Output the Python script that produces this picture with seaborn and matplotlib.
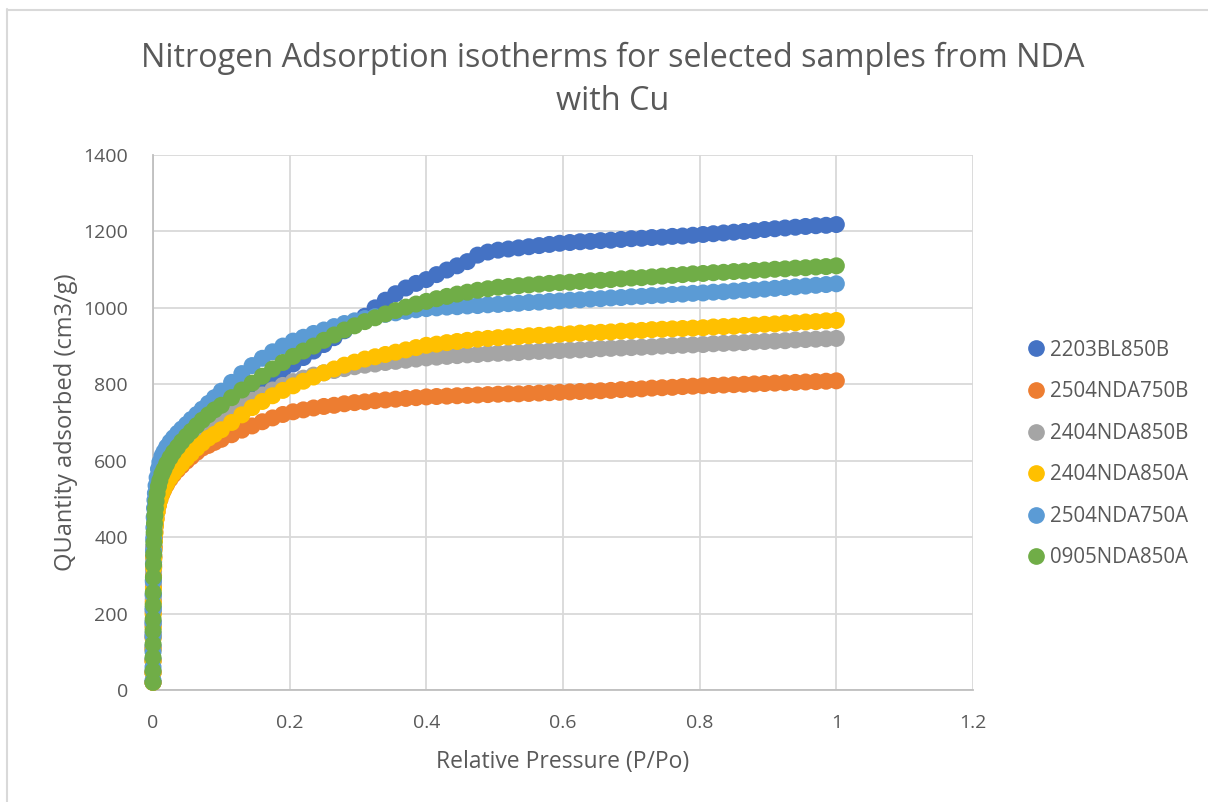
import numpy as np
import pandas as pd
import seaborn as sns
import matplotlib.pyplot as plt
from matplotlib.lines import Line2D

# Relative pressure points (P/Po) shared by all samples
pressure = [0.00001, 0.00003, 0.00006, 0.0001, 0.00015, 0.0002, 0.0003, 0.0004, 0.0006, 0.0008,
            0.001, 0.0013, 0.0017, 0.0022, 0.0028, 0.0035, 0.0045, 0.006, 0.008,
            0.01, 0.013, 0.016, 0.02, 0.025, 0.03, 0.036, 0.042, 0.049, 0.056,
            0.064, 0.072, 0.081, 0.09, 0.1,
            0.115, 0.13, 0.145, 0.16, 0.175, 0.19, 0.205, 0.22, 0.235, 0.25,
            0.265, 0.28, 0.295, 0.31, 0.325, 0.34, 0.355, 0.37, 0.385, 0.4,
            0.415, 0.43, 0.445, 0.46, 0.475, 0.49, 0.505, 0.52, 0.535, 0.55,
            0.565, 0.58, 0.595, 0.61, 0.625, 0.64, 0.655, 0.67, 0.685, 0.7,
            0.715, 0.73, 0.745, 0.76, 0.775, 0.79, 0.805, 0.82, 0.835, 0.85,
            0.865, 0.88, 0.895, 0.91, 0.925, 0.94, 0.955, 0.97, 0.985, 1.0]

# Quantity adsorbed (cm3/g) for each sample
q_2203BL850B = [20, 48, 80, 115, 148, 178, 215, 248, 288, 320,
                347, 376, 403, 427, 448, 466, 485, 505, 523,
                538, 555, 567, 582, 597, 611, 624, 637, 651, 664,
                678, 692, 706, 717, 728,
                749, 768, 786, 803, 820, 837, 853, 870, 887, 904,
                922, 940, 958, 978, 1000, 1020, 1037, 1052, 1064, 1074,
                1087, 1099, 1110, 1121, 1138, 1146, 1151, 1154, 1157, 1160,
                1163, 1166, 1169, 1171, 1173, 1174, 1176, 1177, 1179, 1181,
                1182, 1184, 1185, 1187, 1188, 1190, 1192, 1194, 1196, 1198,
                1200, 1202, 1205, 1207, 1209, 1211, 1213, 1215, 1216, 1218]
q_2504NDA750B = [20, 45, 76, 108, 138, 167, 202, 233, 270, 300,
                 325, 350, 373, 395, 414, 431, 449, 467, 484,
                 498, 513, 525, 538, 552, 564, 576, 587, 599, 610,
                 622, 633, 640, 648, 656,
                 668, 680, 691, 702, 712, 721, 728, 733, 738, 742,
                 745, 749, 752, 754, 757, 759, 761, 763, 765, 767,
                 768, 769, 770, 771, 772, 773, 774, 775, 775, 776,
                 777, 778, 779, 780, 781, 782, 783, 784, 786, 787,
                 788, 790, 791, 792, 794, 795, 796, 797, 798, 799,
                 800, 801, 802, 803, 804, 805, 806, 807, 808, 809]
q_2404NDA850B = [20, 45, 78, 110, 142, 172, 208, 240, 278, 310,
                 336, 364, 390, 413, 433, 450, 468, 487, 505,
                 520, 536, 548, 562, 577, 590, 603, 616, 630, 643,
                 657, 670, 684, 696, 708,
                 726, 743, 758, 772, 785, 797, 807, 816, 824, 830,
                 836, 841, 846, 850, 853, 857, 860, 863, 866, 869,
                 871, 873, 875, 877, 878, 880, 881, 882, 883, 885,
                 886, 887, 888, 889, 890, 891, 893, 894, 895, 896,
                 897, 898, 900, 901, 902, 903, 904, 906, 907, 908,
                 909, 911, 912, 913, 914, 916, 917, 918, 919, 920]
q_2404NDA850A = [20, 45, 75, 105, 135, 163, 198, 228, 265, 295,
                 320, 345, 368, 390, 410, 428, 447, 466, 484,
                 498, 514, 526, 540, 555, 567, 580, 592, 606, 619,
                 633, 646, 659, 669, 681,
                 700, 720, 739, 755, 770, 784, 796, 808, 819, 830,
                 840, 850, 858, 866, 872, 878, 884, 890, 896, 902,
                 905, 909, 912, 915, 918, 920, 922, 924, 925, 927,
                 928, 929, 931, 932, 934, 935, 936, 937, 939, 940,
                 941, 943, 944, 945, 946, 947, 948, 950, 951, 952,
                 954, 955, 957, 958, 960, 961, 963, 964, 966, 967]
q_2504NDA750A = [25, 60, 100, 140, 175, 210, 250, 285, 330, 365,
                 395, 425, 452, 476, 497, 515, 535, 556, 578,
                 596, 612, 623, 636, 649, 660, 672, 683, 695, 708,
                 721, 735, 750, 765, 782,
                 805, 828, 849, 868, 885, 900, 913, 923, 933, 942,
                 951, 959, 966, 972, 977, 983, 987, 991, 995, 998,
                 1000, 1002, 1003, 1005, 1006, 1008, 1009, 1011, 1012, 1014,
                 1015, 1017, 1018, 1020, 1021, 1023, 1024, 1026, 1027, 1029,
                 1030, 1032, 1033, 1035, 1036, 1038, 1039, 1041, 1042, 1044,
                 1046, 1047, 1049, 1051, 1053, 1055, 1057, 1059, 1061, 1063]
q_0905NDA850A = [20, 50, 85, 120, 155, 185, 222, 255, 295, 328,
                 355, 385, 412, 436, 457, 475, 494, 514, 533,
                 548, 565, 577, 592, 608, 622, 636, 650, 664, 677,
                 692, 706, 720, 733, 745,
                 765, 785, 803, 821, 840, 857, 873, 887, 900, 915,
                 929, 942, 953, 964, 974, 984, 993, 1002, 1010, 1017,
                 1024, 1030, 1036, 1041, 1046, 1050, 1054, 1056, 1058, 1060,
                 1062, 1064, 1066, 1067, 1069, 1071, 1072, 1074, 1076, 1078,
                 1079, 1081, 1083, 1085, 1087, 1089, 1090, 1092, 1093, 1095,
                 1096, 1098, 1099, 1101, 1102, 1104, 1105, 1107, 1108, 1110]

samples = ["2203BL850B", "2504NDA750B", "2404NDA850B",
           "2404NDA850A", "2504NDA750A", "0905NDA850A"]
quantities = [q_2203BL850B, q_2504NDA750B, q_2404NDA850B,
              q_2404NDA850A, q_2504NDA750A, q_0905NDA850A]
colors = ["#4472C4", "#ED7D31", "#A5A5A5", "#FFC000", "#5B9BD5", "#70AD47"]

x_ticks = [0, 0.2, 0.4, 0.6, 0.8, 1, 1.2]
x_tick_labels = ["0", "0.2", "0.4", "0.6", "0.8", "1", "1.2"]
y_ticks = [0, 200, 400, 600, 800, 1000, 1200, 1400]

df = pd.concat(
    [pd.DataFrame({"P": pressure, "Q": q, "Sample": name})
     for name, q in zip(samples, quantities)],
    ignore_index=True,
)

sns.set_style("white")
plt.rcParams["font.family"] = ["Open Sans", "DejaVu Sans"]
text_color = "#595959"

W, H = 1208, 802
fig = plt.figure(figsize=(W / 100, H / 100), dpi=100)
ax = fig.add_axes([153 / W, 1 - 690 / H, 820 / W, 535 / H])

sns.scatterplot(data=df, x="P", y="Q", hue="Sample", hue_order=samples,
                palette=colors, s=150, linewidth=0, legend=False, ax=ax,
                zorder=3, clip_on=False)

ax.set_xlim(0, 1.2)
ax.set_ylim(0, 1400)
ax.set_xticks(x_ticks)
ax.set_xticklabels(x_tick_labels)
ax.set_yticks(y_ticks)
ax.grid(True, color="#D9D9D9", linewidth=1.3, zorder=0)
ax.set_axisbelow(True)
for side in ["top", "right"]:
    ax.spines[side].set_visible(False)
for side in ["left", "bottom"]:
    ax.spines[side].set_color("#BFBFBF")
    ax.spines[side].set_linewidth(1.3)
ax.tick_params(axis="both", length=0, labelsize=14, labelcolor=text_color)
ax.tick_params(axis="x", pad=17)
ax.tick_params(axis="y", pad=18)

ax.set_xlabel("Relative Pressure (P/Po)", fontsize=16.5, color=text_color,
              labelpad=13)
ax.set_ylabel("QUantity adsorbed (cm3/g)", fontsize=17, color=text_color,
              labelpad=4)

fig.text(613 / W, 1 - 58 / H, "Nitrogen Adsorption isotherms for selected samples from NDA",
         ha="center", va="center", fontsize=23.3, color=text_color)
fig.text(613 / W, 1 - 101 / H, "with Cu",
         ha="center", va="center", fontsize=23.3, color=text_color)

handles = [Line2D([], [], marker="o", linestyle="none", markersize=11,
                  markerfacecolor=c, markeredgecolor=c, label=n)
           for n, c in zip(samples, colors)]
fig.legend(handles=handles, loc="center left",
           bbox_to_anchor=(1017 / W, 1 - 454 / H), frameon=False,
           fontsize=14.8, labelcolor=text_color, handletextpad=0.3,
           handlelength=0.8, labelspacing=1.0, borderpad=0)

# chart frame
fig.add_artist(Line2D([7.5 / W, 7.5 / W], [0, 1 - 9 / H], transform=fig.transFigure,
                      color="#D9D9D9", linewidth=1.5))
fig.add_artist(Line2D([7 / W, 1], [1 - 9.5 / H, 1 - 9.5 / H], transform=fig.transFigure,
                      color="#D9D9D9", linewidth=1.5))

fig.savefig("out.png", dpi=100, facecolor="white")
